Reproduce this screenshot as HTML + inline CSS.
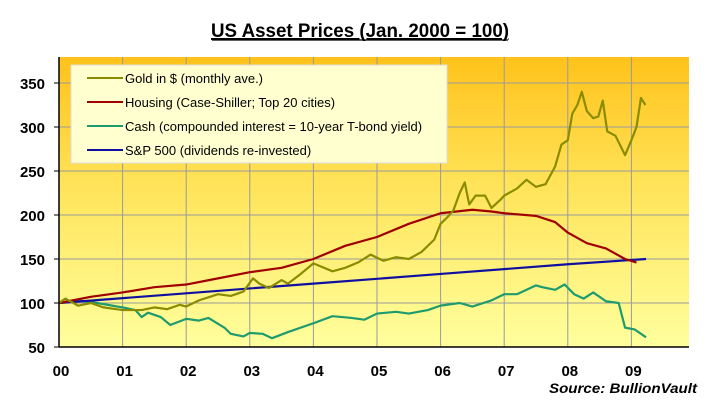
<!DOCTYPE html>
<html><head><meta charset="utf-8"><style>
body{margin:0;background:#fff;width:720px;height:411px;overflow:hidden;font-family:"Liberation Sans",Arial,sans-serif}
svg text{font-family:"Liberation Sans",Arial,sans-serif}
</style></head><body>
<svg id="chart" width="720" height="411">
<defs>
<linearGradient id="bg" x1="0" y1="0" x2="0" y2="1">
<stop offset="0" stop-color="#FFC21A"/><stop offset="0.45" stop-color="#FFE45A"/><stop offset="1" stop-color="#FFFF9E"/>
</linearGradient>
</defs>
<text x="360" y="37" text-anchor="middle" font-size="19" font-weight="bold" textLength="298" lengthAdjust="spacingAndGlyphs" text-decoration="underline">US Asset Prices (Jan. 2000 = 100)</text>
<line x1="212" y1="40" x2="508" y2="40" stroke="#000" stroke-width="1.3"/>
<rect x="59" y="57" width="630" height="290" fill="url(#bg)"/>
<g id="grid"></g>
<g id="series"></g>
<g id="axes"></g>
<rect x="71" y="65" width="376" height="98" fill="#FFFFD0" stroke="#ddd"/>
<g><line x1="87" y1="78" x2="123" y2="78" stroke="#8B8B00" stroke-width="2"/><text x="125" y="83" font-size="13">Gold in $ (monthly ave.)</text></g>
<g><line x1="87" y1="102" x2="123" y2="102" stroke="#A00000" stroke-width="2"/><text x="125" y="107" font-size="13">Housing (Case-Shiller; Top 20 cities)</text></g>
<g><line x1="87" y1="126" x2="123" y2="126" stroke="#1E9B6E" stroke-width="2"/><text x="125" y="131" font-size="13">Cash (compounded interest = 10-year T-bond yield)</text></g>
<g><line x1="87" y1="150" x2="123" y2="150" stroke="#1010A0" stroke-width="2"/><text x="125" y="155" font-size="13">S&amp;P 500 (dividends re-invested)</text></g>
<text x="697" y="393" text-anchor="end" font-size="14" font-weight="bold" font-style="italic" textLength="148" lengthAdjust="spacingAndGlyphs">Source:  BullionVault</text>
</svg>
<script>
const yTicks=[50,100,150,200,250,300,350];
const xLabels=["00","01","02","03","04","05","06","07","08","09"];
const goldT=[0,0.1,0.3,0.5,0.7,1.0,1.3,1.5,1.7,1.9,2.0,2.2,2.5,2.7,2.9,3.05,3.15,3.3,3.5,3.6,3.8,4.0,4.1,4.3,4.5,4.7,4.9,5.1,5.3,5.5,5.7,5.9,6.0,6.1,6.2,6.3,6.38,6.45,6.55,6.7,6.8,6.95,7.0,7.2,7.35,7.5,7.65,7.8,7.9,8.0,8.07,8.15,8.22,8.3,8.4,8.48,8.55,8.62,8.75,8.9,9.0,9.08,9.15,9.22];
const goldV=[100,105,97,100,95,92,92,95,93,98,96,103,110,108,113,128,122,117,126,122,133,145,142,136,140,146,155,148,152,150,158,172,190,197,205,225,237,212,222,222,208,218,222,230,240,232,235,255,280,285,315,325,340,318,310,312,330,295,290,268,285,300,333,325];
const houseT=[0,0.5,1,1.5,2,2.5,3,3.5,4,4.5,5,5.5,6,6.5,6.8,7,7.5,7.8,8,8.3,8.6,8.9,9.08];
const houseV=[100,107,112,118,121,128,135,140,150,165,175,190,202,206,204,202,199,192,180,168,162,150,146];
const cashT=[0,0.3,0.6,1.0,1.2,1.3,1.4,1.6,1.75,2.0,2.2,2.35,2.6,2.7,2.9,3.0,3.2,3.35,3.6,4.0,4.3,4.6,4.8,5.0,5.3,5.5,5.8,6.0,6.3,6.5,6.8,7.0,7.2,7.5,7.6,7.8,7.95,8.1,8.25,8.4,8.6,8.8,8.9,9.05,9.23];
const cashV=[100,103,100,95,92,84,89,84,75,82,80,83,72,65,62,66,65,60,67,77,85,83,81,88,90,88,92,97,100,96,103,110,110,120,118,115,121,110,105,112,102,100,72,70,61];
const spT=[0,2,4,6,8,9.23];
const spV=[100,111,122,133,144,150];
const X=t=>59+63.6*t, Y=v=>347-(v-50)*0.88;
const NS="http://www.w3.org/2000/svg";
function mk(tag,attrs,parent){const e=document.createElementNS(NS,tag);for(const k in attrs)e.setAttribute(k,attrs[k]);parent.appendChild(e);return e;}
const grid=document.getElementById('grid'),axes=document.getElementById('axes'),ser=document.getElementById('series');
yTicks.forEach(v=>{
 if(v>50){const g=mk('line',{x1:59,x2:689,y1:Y(v),y2:Y(v),stroke:'#9a9a9a','stroke-width':1},grid);
 
 }
 mk('line',{x1:54,x2:59,y1:Y(v),y2:Y(v),stroke:'#000'},axes);
 const t=mk('text',{x:45,y:Y(v)+6,'text-anchor':'end','font-size':15,'font-weight':'bold'},axes);t.textContent=v;
 
 
});
xLabels.forEach((l,i)=>{
 if(i>0){const g=mk('line',{x1:X(i),x2:X(i),y1:57,y2:347,stroke:'#9a9a9a'},grid);
 
 }
 const t=mk('text',{x:X(i)+2,y:376,'text-anchor':'middle','font-size':15,'font-weight':'bold'},axes);t.textContent=l;
 
 
});
mk('line',{x1:59,x2:689,y1:347,y2:347,stroke:'#000','stroke-width':1.5},axes);
mk('line',{x1:59,x2:59,y1:57,y2:347,stroke:'#000','stroke-width':1.5},axes);
function line(T,V,color,name){
 const p=mk('polyline',{points:T.map((t,i)=>X(t)+','+Y(V[i])).join(' '),fill:'none',stroke:color,'stroke-width':2.2,'stroke-linejoin':'round'},ser);
 
 
}
line(cashT,cashV,'#1E9B6E','cash-line');
line(spT,spV,'#1010A0','sp500-line');
line(houseT,houseV,'#A00000','housing-line');
line(goldT,goldV,'#8B8B00','gold-line');
</script>
</body></html>
